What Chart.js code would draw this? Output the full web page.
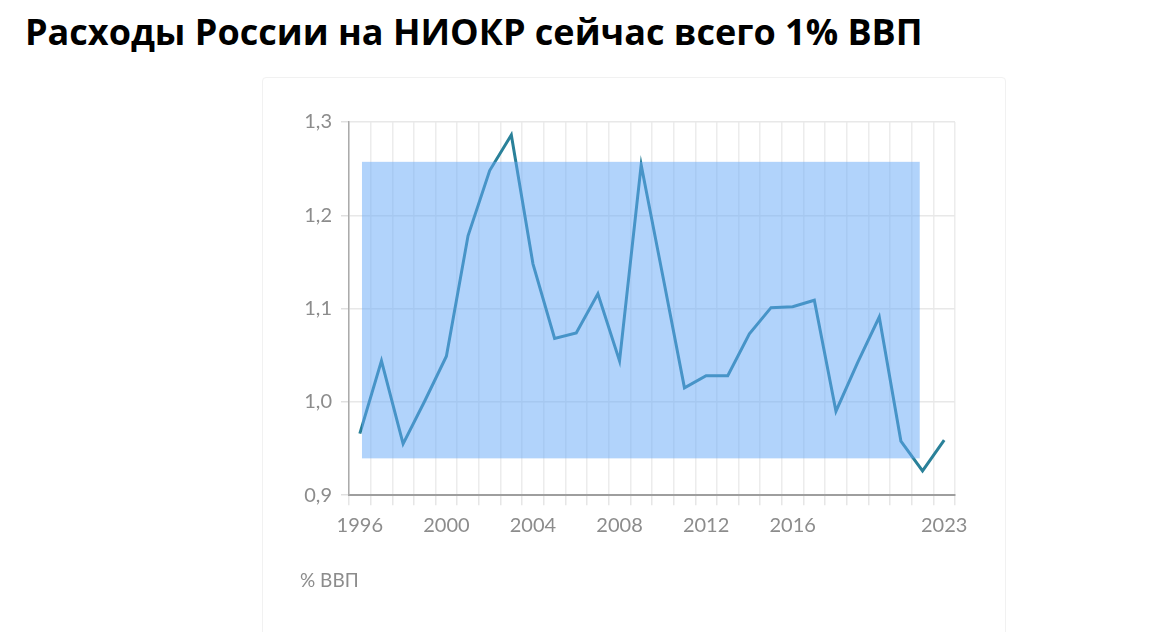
<!DOCTYPE html>
<html>
<head>
<meta charset="utf-8">
<script src="https://cdn.jsdelivr.net/npm/chart.js@4"></script>
<style>
  body { margin: 0; background: #fff; width: 1170px; height: 632px; overflow: hidden; position: relative; }
  h1 {
    position: absolute; left: 25px; top: 7px; margin: 0;
    font-family: "Open Sans", sans-serif; font-weight: 700; font-size: 36px;
    color: #000; white-space: nowrap;
  }
  .card {
    position: absolute; left: 262px; top: 77px; width: 742px; height: 600px;
    border: 1px solid #f1f1f1; border-radius: 4px;
  }
  .wrap { position: absolute; left: 300px; top: 100px; width: 690px; height: 510px; }
</style>
</head>
<body>
<h1>Расходы России на НИОКР сейчас всего 1% ВВП</h1>
<div class="card"></div>
<div class="wrap"><canvas id="rdChart"></canvas></div>
<script>
// years on the x axis
const years = [1996, 1997, 1998, 1999, 2000, 2001, 2002, 2003, 2004, 2005,
  2006, 2007, 2008, 2009, 2010, 2011, 2012, 2013, 2014, 2015,
  2016, 2017, 2018, 2019, 2020, 2021, 2022, 2023];

// R&D spending, % of GDP
const spending = [0.966, 1.044, 0.955, 1.001, 1.049, 1.178, 1.248, 1.286, 1.148, 1.068,
  1.074, 1.116, 1.044, 1.254, 1.135, 1.015, 1.028, 1.028, 1.073, 1.101,
  1.102, 1.109, 0.990, 1.042, 1.091, 0.958, 0.926, 0.959];

// years that get a label
const labelYears = [1996, 2000, 2004, 2008, 2012, 2016, 2023];

// y ticks
const yTicks = [0.9, 1.0, 1.1, 1.2, 1.3];

// highlighted block, in data units
const boxYears = [1996.1, 2021.87];
const boxValues = [0.9395, 1.2573];

// blue block drawn on top of the line
const highlightBox = {
  id: "highlightBox",
  afterDatasetsDraw(chart) {
    const x = chart.scales.x;
    const y = chart.scales.y;
    const x1 = x.getPixelForValue(boxYears[0] - years[0]);
    const x2 = x.getPixelForValue(boxYears[1] - years[0]);
    const y1 = y.getPixelForValue(boxValues[1]);
    const y2 = y.getPixelForValue(boxValues[0]);
    const c = chart.ctx;
    c.save();
    c.fillStyle = "rgba(100,168,248,0.5)";
    c.fillRect(x1, y1, x2 - x1, y2 - y1);
    c.restore();
  }
};

const ctx = document.getElementById("rdChart").getContext("2d");
new Chart(ctx, {
  type: "line",
  data: {
    labels: years,
    datasets: [{
      data: spending,
      borderColor: "#2a8199",
      borderWidth: 3,
      pointRadius: 0,
      tension: 0,
      fill: false
    }]
  },
  options: {
    responsive: true,
    maintainAspectRatio: false,
    animation: false,
    layout: { padding: { top: 22, right: 35, left: 0, bottom: 0 } },
    plugins: {
      legend: { display: false },
      tooltip: { enabled: false },
      title: {
        display: true,
        text: "% ВВП",
        position: "bottom",
        align: "start",
        color: "#8c8c8c",
        font: { family: "Lato", size: 19, weight: "normal" },
        padding: { top: 29, bottom: 18 }
      }
    },
    scales: {
      x: {
        offset: true,
        afterFit(scale) { scale.height = 45; },
        grid: {
          offset: true,
          color: "#ececec",
          tickColor: "#e6e6e6",
          tickLength: 10,
          lineWidth: 1.5
        },
        border: { display: true, color: "#9e9e9e", width: 2 },
        ticks: {
          autoSkip: false,
          maxRotation: 0,
          padding: 8,
          color: "#8c8c8c",
          font: { family: "Lato", size: 20 },
          callback(value, index) {
            const yr = years[index];
            return labelYears.includes(yr) ? String(yr) : "";
          }
        }
      },
      y: {
        min: 0.9,
        max: 1.3,
        afterFit(scale) { scale.width = 49; },
        afterBuildTicks(scale) {
          scale.ticks = yTicks.map(v => ({ value: v }));
        },
        grid: {
          color: "#e8e8e8",
          tickColor: "#e0e0e0",
          tickLength: 8,
          lineWidth: 1.5
        },
        border: { display: true, color: "#ababab", width: 1.5 },
        ticks: {
          padding: 9,
          color: "#8c8c8c",
          font: { family: "Lato", size: 20 },
          callback(value) { return value.toFixed(1).replace(".", ","); }
        }
      }
    }
  },
  plugins: [highlightBox]
});
</script>
</body>
</html>
